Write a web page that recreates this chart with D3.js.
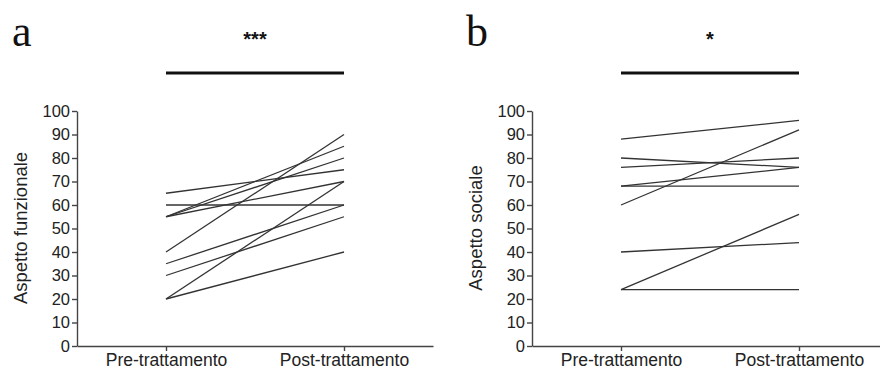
<!DOCTYPE html>
<html>
<head>
<meta charset="utf-8">
<script src="https://cdn.jsdelivr.net/npm/d3@7"></script>
<style>
  body { margin: 0; background: #fff; }
  svg text { font-family: "Liberation Sans", Arial, sans-serif; fill: #222; }
</style>
</head>
<body>
<div id="chart"></div>
<script>
const categories = ['Pre-trattamento', 'Post-trattamento'];
const yTicks = [0, 10, 20, 30, 40, 50, 60, 70, 80, 90, 100];

// panel a: Aspetto funzionale, [pre, post] per paziente
const funzionalePre  = [65, 60, 55, 55, 55, 40, 35, 30, 20, 20];
const funzionalePost = [75, 60, 85, 80, 70, 90, 60, 55, 70, 40];

// panel b: Aspetto sociale
const socialePre  = [88, 80, 76, 68, 68, 60, 40, 24, 24];
const socialePost = [96, 76, 80, 76, 68, 92, 44, 56, 24];

const width = 880, height = 372;
const svg = d3.select('#chart').append('svg')
    .attr('width', width)
    .attr('height', height);

function drawPanel(opts) {
    const x = d3.scalePoint()
        .domain(categories)
        .range([opts.left, opts.right])
        .padding(0.5);

    const y = d3.scaleLinear()
        .domain([0, 100])
        .range([346, 111]);

    const g = svg.append('g');

    // y axis
    const ya = g.append('g')
        .attr('transform', `translate(${opts.left},0)`)
        .call(d3.axisLeft(y).tickValues(yTicks).tickSize(5).tickPadding(2).tickSizeOuter(0));
    ya.selectAll('text').style('font-size', '16.5px');

    // x axis
    const xa = g.append('g')
        .attr('transform', 'translate(0,346)')
        .call(d3.axisBottom(x).tickSize(5).tickPadding(3).tickSizeOuter(0));
    xa.selectAll('text').style('font-size', '17.5px');

    g.selectAll('.domain, .tick line')
        .attr('stroke', '#444')
        .attr('stroke-width', 1.4);

    // y title
    g.append('text')
        .attr('transform', `translate(${opts.left - 50},228) rotate(-90)`)
        .attr('text-anchor', 'middle')
        .style('font-size', '18.5px')
        .text(opts.title);

    // paired lines
    const pairs = opts.pre.map((v, i) => [v, opts.post[i]]);
    const line = d3.line()
        .x((d, i) => x(categories[i]))
        .y(d => y(d));
    g.selectAll('path.pair')
        .data(pairs)
        .join('path')
        .attr('class', 'pair')
        .attr('fill', 'none')
        .attr('stroke', '#333')
        .attr('stroke-width', 1.3)
        .attr('d', line);

    // significance bar
    g.append('line')
        .attr('x1', x(categories[0]))
        .attr('x2', x(categories[1]))
        .attr('y1', 73)
        .attr('y2', 73)
        .attr('stroke', '#111')
        .attr('stroke-width', 3);

    g.append('text')
        .attr('x', (x(categories[0]) + x(categories[1])) / 2)
        .attr('y', 46)
        .attr('text-anchor', 'middle')
        .style('font-size', '20px')
        .style('font-weight', 'bold')
        .style('fill', '#111')
        .text(opts.stars);

    // panel letter
    g.append('text')
        .attr('x', opts.letterX)
        .attr('y', 46)
        .style('font-family', '"Liberation Serif", "Times New Roman", serif')
        .style('font-size', '44px')
        .style('fill', '#111')
        .text(opts.letter);
}

drawPanel({
    left: 77, right: 433,
    title: 'Aspetto funzionale',
    pre: funzionalePre, post: funzionalePost,
    stars: '***', letter: 'a', letterX: 12
});

drawPanel({
    left: 532, right: 888,
    title: 'Aspetto sociale',
    pre: socialePre, post: socialePost,
    stars: '*', letter: 'b', letterX: 466
});
</script>
</body>
</html>
